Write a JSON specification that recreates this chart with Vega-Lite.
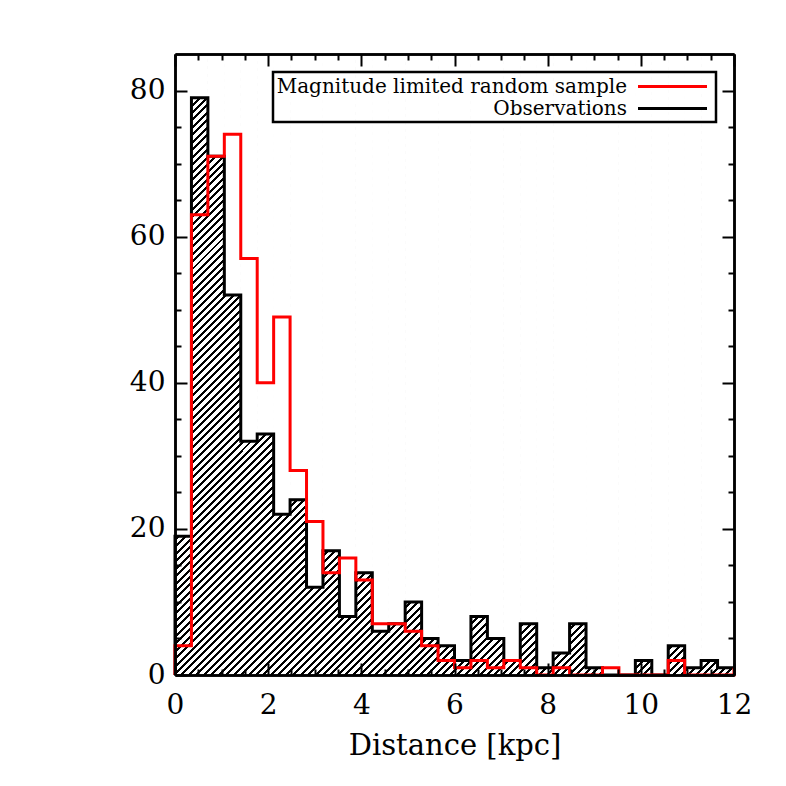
{
"$schema": "https://vega.github.io/schema/vega-lite/v6.json",
"width": 559, "height": 621,
"autosize": {"type": "none"},
"padding": {"left": 175, "top": 54, "right": 52, "bottom": 111},
"background": "white",
"config": {
 "view": {"stroke": null},
 "axis": {"domainColor": "black", "domainWidth": 2.5, "tickColor": "black", "tickWidth": 2, "labelColor": "black", "labelFont": "DejaVu Serif", "labelFontSize": 28, "titleFont": "DejaVu Serif", "titleFontSize": 29, "titleFontWeight": "normal", "titleColor": "black", "grid": false, "zindex": 1, "labelFlush": false, "labelOverlap": false},
 "legend": {"strokeWidth": 2.5}
},
"datasets": {
 "one": [{}],
 "bins": [
  {"x0": 0, "x1": 0.3529, "obs": 19},
  {"x0": 0.3529, "x1": 0.7059, "obs": 79},
  {"x0": 0.7059, "x1": 1.0588, "obs": 71},
  {"x0": 1.0588, "x1": 1.4118, "obs": 52},
  {"x0": 1.4118, "x1": 1.7647, "obs": 32},
  {"x0": 1.7647, "x1": 2.1176, "obs": 33},
  {"x0": 2.1176, "x1": 2.4706, "obs": 22},
  {"x0": 2.4706, "x1": 2.8235, "obs": 24},
  {"x0": 2.8235, "x1": 3.1765, "obs": 12},
  {"x0": 3.1765, "x1": 3.5294, "obs": 17},
  {"x0": 3.5294, "x1": 3.8824, "obs": 8},
  {"x0": 3.8824, "x1": 4.2353, "obs": 14},
  {"x0": 4.2353, "x1": 4.5882, "obs": 6},
  {"x0": 4.5882, "x1": 4.9412, "obs": 7},
  {"x0": 4.9412, "x1": 5.2941, "obs": 10},
  {"x0": 5.2941, "x1": 5.6471, "obs": 5},
  {"x0": 5.6471, "x1": 6.0, "obs": 4},
  {"x0": 6.0, "x1": 6.3529, "obs": 2},
  {"x0": 6.3529, "x1": 6.7059, "obs": 8},
  {"x0": 6.7059, "x1": 7.0588, "obs": 5},
  {"x0": 7.0588, "x1": 7.4118, "obs": 2},
  {"x0": 7.4118, "x1": 7.7647, "obs": 7},
  {"x0": 7.7647, "x1": 8.1176, "obs": 1},
  {"x0": 8.1176, "x1": 8.4706, "obs": 3},
  {"x0": 8.4706, "x1": 8.8235, "obs": 7},
  {"x0": 8.8235, "x1": 9.1765, "obs": 1},
  {"x0": 9.1765, "x1": 9.5294, "obs": 0},
  {"x0": 9.5294, "x1": 9.8824, "obs": 0},
  {"x0": 9.8824, "x1": 10.2353, "obs": 2},
  {"x0": 10.2353, "x1": 10.5882, "obs": 0},
  {"x0": 10.5882, "x1": 10.9412, "obs": 4},
  {"x0": 10.9412, "x1": 11.2941, "obs": 1},
  {"x0": 11.2941, "x1": 11.6471, "obs": 2},
  {"x0": 11.6471, "x1": 12, "obs": 1}
 ],
 "steps": [
  {"i": 0, "x": 0, "obs": 0, "sim": 0},
  {"i": 1, "x": 0, "obs": 19, "sim": 4},
  {"i": 2, "x": 0.3529, "obs": 79, "sim": 63},
  {"i": 3, "x": 0.7059, "obs": 71, "sim": 71},
  {"i": 4, "x": 1.0588, "obs": 52, "sim": 74},
  {"i": 5, "x": 1.4118, "obs": 32, "sim": 57},
  {"i": 6, "x": 1.7647, "obs": 33, "sim": 40},
  {"i": 7, "x": 2.1176, "obs": 22, "sim": 49},
  {"i": 8, "x": 2.4706, "obs": 24, "sim": 28},
  {"i": 9, "x": 2.8235, "obs": 12, "sim": 21},
  {"i": 10, "x": 3.1765, "obs": 17, "sim": 14},
  {"i": 11, "x": 3.5294, "obs": 8, "sim": 16},
  {"i": 12, "x": 3.8824, "obs": 14, "sim": 13},
  {"i": 13, "x": 4.2353, "obs": 6, "sim": 7},
  {"i": 14, "x": 4.5882, "obs": 7, "sim": 7},
  {"i": 15, "x": 4.9412, "obs": 10, "sim": 6},
  {"i": 16, "x": 5.2941, "obs": 5, "sim": 4},
  {"i": 17, "x": 5.6471, "obs": 4, "sim": 2},
  {"i": 18, "x": 6.0, "obs": 2, "sim": 1},
  {"i": 19, "x": 6.3529, "obs": 8, "sim": 2},
  {"i": 20, "x": 6.7059, "obs": 5, "sim": 1},
  {"i": 21, "x": 7.0588, "obs": 2, "sim": 2},
  {"i": 22, "x": 7.4118, "obs": 7, "sim": 1},
  {"i": 23, "x": 7.7647, "obs": 1, "sim": 0},
  {"i": 24, "x": 8.1176, "obs": 3, "sim": 1},
  {"i": 25, "x": 8.4706, "obs": 7, "sim": 0},
  {"i": 26, "x": 8.8235, "obs": 1, "sim": 0},
  {"i": 27, "x": 9.1765, "obs": 0, "sim": 1},
  {"i": 28, "x": 9.5294, "obs": 0, "sim": 0},
  {"i": 29, "x": 9.8824, "obs": 2, "sim": 0},
  {"i": 30, "x": 10.2353, "obs": 0, "sim": 0},
  {"i": 31, "x": 10.5882, "obs": 4, "sim": 2},
  {"i": 32, "x": 10.9412, "obs": 1, "sim": 0},
  {"i": 33, "x": 11.2941, "obs": 2, "sim": 0},
  {"i": 34, "x": 11.6471, "obs": 1, "sim": 0},
  {"i": 35, "x": 12, "obs": 1, "sim": 1}
 ]
},
"resolve": {"scale": {"x": "shared", "y": "shared", "color": "shared"}, "axis": {"x": "independent", "y": "independent"}},
"layer": [
 {
  "data": {"name": "one"},
  "mark": {"type": "rect", "clip": true, "fill": {"gradient": "linear", "x1": 0, "y1": 0, "x2": 1, "y2": 1, "stops": [
{"offset":0,"color":"#000"},{"offset":0.0024,"color":"#000"},{"offset":0.0024,"color":"#fff"},{"offset":0.006,"color":"#fff"},
{"offset":0.006,"color":"#000"},{"offset":0.0084,"color":"#000"},{"offset":0.0084,"color":"#fff"},{"offset":0.012,"color":"#fff"},
{"offset":0.012,"color":"#000"},{"offset":0.0144,"color":"#000"},{"offset":0.0144,"color":"#fff"},{"offset":0.018,"color":"#fff"},
{"offset":0.018,"color":"#000"},{"offset":0.0204,"color":"#000"},{"offset":0.0204,"color":"#fff"},{"offset":0.024,"color":"#fff"},
{"offset":0.024,"color":"#000"},{"offset":0.0264,"color":"#000"},{"offset":0.0264,"color":"#fff"},{"offset":0.03,"color":"#fff"},
{"offset":0.03,"color":"#000"},{"offset":0.0324,"color":"#000"},{"offset":0.0324,"color":"#fff"},{"offset":0.036,"color":"#fff"},
{"offset":0.036,"color":"#000"},{"offset":0.0384,"color":"#000"},{"offset":0.0384,"color":"#fff"},{"offset":0.042,"color":"#fff"},
{"offset":0.042,"color":"#000"},{"offset":0.0444,"color":"#000"},{"offset":0.0444,"color":"#fff"},{"offset":0.048,"color":"#fff"},
{"offset":0.048,"color":"#000"},{"offset":0.0504,"color":"#000"},{"offset":0.0504,"color":"#fff"},{"offset":0.054,"color":"#fff"},
{"offset":0.054,"color":"#000"},{"offset":0.0564,"color":"#000"},{"offset":0.0564,"color":"#fff"},{"offset":0.06,"color":"#fff"},
{"offset":0.06,"color":"#000"},{"offset":0.0624,"color":"#000"},{"offset":0.0624,"color":"#fff"},{"offset":0.066,"color":"#fff"},
{"offset":0.066,"color":"#000"},{"offset":0.0684,"color":"#000"},{"offset":0.0684,"color":"#fff"},{"offset":0.072,"color":"#fff"},
{"offset":0.072,"color":"#000"},{"offset":0.0744,"color":"#000"},{"offset":0.0744,"color":"#fff"},{"offset":0.078,"color":"#fff"},
{"offset":0.078,"color":"#000"},{"offset":0.0804,"color":"#000"},{"offset":0.0804,"color":"#fff"},{"offset":0.084,"color":"#fff"},
{"offset":0.084,"color":"#000"},{"offset":0.0864,"color":"#000"},{"offset":0.0864,"color":"#fff"},{"offset":0.09,"color":"#fff"},
{"offset":0.09,"color":"#000"},{"offset":0.0924,"color":"#000"},{"offset":0.0924,"color":"#fff"},{"offset":0.096,"color":"#fff"},
{"offset":0.096,"color":"#000"},{"offset":0.0984,"color":"#000"},{"offset":0.0984,"color":"#fff"},{"offset":0.102,"color":"#fff"},
{"offset":0.102,"color":"#000"},{"offset":0.1044,"color":"#000"},{"offset":0.1044,"color":"#fff"},{"offset":0.108,"color":"#fff"},
{"offset":0.108,"color":"#000"},{"offset":0.1104,"color":"#000"},{"offset":0.1104,"color":"#fff"},{"offset":0.114,"color":"#fff"},
{"offset":0.114,"color":"#000"},{"offset":0.1164,"color":"#000"},{"offset":0.1164,"color":"#fff"},{"offset":0.12,"color":"#fff"},
{"offset":0.12,"color":"#000"},{"offset":0.1224,"color":"#000"},{"offset":0.1224,"color":"#fff"},{"offset":0.126,"color":"#fff"},
{"offset":0.126,"color":"#000"},{"offset":0.1284,"color":"#000"},{"offset":0.1284,"color":"#fff"},{"offset":0.132,"color":"#fff"},
{"offset":0.132,"color":"#000"},{"offset":0.1344,"color":"#000"},{"offset":0.1344,"color":"#fff"},{"offset":0.138,"color":"#fff"},
{"offset":0.138,"color":"#000"},{"offset":0.1404,"color":"#000"},{"offset":0.1404,"color":"#fff"},{"offset":0.144,"color":"#fff"},
{"offset":0.144,"color":"#000"},{"offset":0.1464,"color":"#000"},{"offset":0.1464,"color":"#fff"},{"offset":0.15,"color":"#fff"},
{"offset":0.15,"color":"#000"},{"offset":0.1524,"color":"#000"},{"offset":0.1524,"color":"#fff"},{"offset":0.156,"color":"#fff"},
{"offset":0.156,"color":"#000"},{"offset":0.1584,"color":"#000"},{"offset":0.1584,"color":"#fff"},{"offset":0.162,"color":"#fff"},
{"offset":0.162,"color":"#000"},{"offset":0.1644,"color":"#000"},{"offset":0.1644,"color":"#fff"},{"offset":0.168,"color":"#fff"},
{"offset":0.168,"color":"#000"},{"offset":0.1704,"color":"#000"},{"offset":0.1704,"color":"#fff"},{"offset":0.174,"color":"#fff"},
{"offset":0.174,"color":"#000"},{"offset":0.1764,"color":"#000"},{"offset":0.1764,"color":"#fff"},{"offset":0.18,"color":"#fff"},
{"offset":0.18,"color":"#000"},{"offset":0.1824,"color":"#000"},{"offset":0.1824,"color":"#fff"},{"offset":0.186,"color":"#fff"},
{"offset":0.186,"color":"#000"},{"offset":0.1884,"color":"#000"},{"offset":0.1884,"color":"#fff"},{"offset":0.192,"color":"#fff"},
{"offset":0.192,"color":"#000"},{"offset":0.1944,"color":"#000"},{"offset":0.1944,"color":"#fff"},{"offset":0.198,"color":"#fff"},
{"offset":0.198,"color":"#000"},{"offset":0.2004,"color":"#000"},{"offset":0.2004,"color":"#fff"},{"offset":0.204,"color":"#fff"},
{"offset":0.204,"color":"#000"},{"offset":0.2064,"color":"#000"},{"offset":0.2064,"color":"#fff"},{"offset":0.21,"color":"#fff"},
{"offset":0.21,"color":"#000"},{"offset":0.2124,"color":"#000"},{"offset":0.2124,"color":"#fff"},{"offset":0.216,"color":"#fff"},
{"offset":0.216,"color":"#000"},{"offset":0.2184,"color":"#000"},{"offset":0.2184,"color":"#fff"},{"offset":0.222,"color":"#fff"},
{"offset":0.222,"color":"#000"},{"offset":0.2244,"color":"#000"},{"offset":0.2244,"color":"#fff"},{"offset":0.228,"color":"#fff"},
{"offset":0.228,"color":"#000"},{"offset":0.2304,"color":"#000"},{"offset":0.2304,"color":"#fff"},{"offset":0.234,"color":"#fff"},
{"offset":0.234,"color":"#000"},{"offset":0.2364,"color":"#000"},{"offset":0.2364,"color":"#fff"},{"offset":0.24,"color":"#fff"},
{"offset":0.24,"color":"#000"},{"offset":0.2424,"color":"#000"},{"offset":0.2424,"color":"#fff"},{"offset":0.246,"color":"#fff"},
{"offset":0.246,"color":"#000"},{"offset":0.2484,"color":"#000"},{"offset":0.2484,"color":"#fff"},{"offset":0.252,"color":"#fff"},
{"offset":0.252,"color":"#000"},{"offset":0.2544,"color":"#000"},{"offset":0.2544,"color":"#fff"},{"offset":0.258,"color":"#fff"},
{"offset":0.258,"color":"#000"},{"offset":0.2604,"color":"#000"},{"offset":0.2604,"color":"#fff"},{"offset":0.264,"color":"#fff"},
{"offset":0.264,"color":"#000"},{"offset":0.2664,"color":"#000"},{"offset":0.2664,"color":"#fff"},{"offset":0.27,"color":"#fff"},
{"offset":0.27,"color":"#000"},{"offset":0.2724,"color":"#000"},{"offset":0.2724,"color":"#fff"},{"offset":0.276,"color":"#fff"},
{"offset":0.276,"color":"#000"},{"offset":0.2784,"color":"#000"},{"offset":0.2784,"color":"#fff"},{"offset":0.282,"color":"#fff"},
{"offset":0.282,"color":"#000"},{"offset":0.2844,"color":"#000"},{"offset":0.2844,"color":"#fff"},{"offset":0.288,"color":"#fff"},
{"offset":0.288,"color":"#000"},{"offset":0.2904,"color":"#000"},{"offset":0.2904,"color":"#fff"},{"offset":0.294,"color":"#fff"},
{"offset":0.294,"color":"#000"},{"offset":0.2964,"color":"#000"},{"offset":0.2964,"color":"#fff"},{"offset":0.3,"color":"#fff"},
{"offset":0.3,"color":"#000"},{"offset":0.3024,"color":"#000"},{"offset":0.3024,"color":"#fff"},{"offset":0.306,"color":"#fff"},
{"offset":0.306,"color":"#000"},{"offset":0.3084,"color":"#000"},{"offset":0.3084,"color":"#fff"},{"offset":0.312,"color":"#fff"},
{"offset":0.312,"color":"#000"},{"offset":0.3144,"color":"#000"},{"offset":0.3144,"color":"#fff"},{"offset":0.318,"color":"#fff"},
{"offset":0.318,"color":"#000"},{"offset":0.3204,"color":"#000"},{"offset":0.3204,"color":"#fff"},{"offset":0.324,"color":"#fff"},
{"offset":0.324,"color":"#000"},{"offset":0.3264,"color":"#000"},{"offset":0.3264,"color":"#fff"},{"offset":0.33,"color":"#fff"},
{"offset":0.33,"color":"#000"},{"offset":0.3324,"color":"#000"},{"offset":0.3324,"color":"#fff"},{"offset":0.336,"color":"#fff"},
{"offset":0.336,"color":"#000"},{"offset":0.3384,"color":"#000"},{"offset":0.3384,"color":"#fff"},{"offset":0.342,"color":"#fff"},
{"offset":0.342,"color":"#000"},{"offset":0.3444,"color":"#000"},{"offset":0.3444,"color":"#fff"},{"offset":0.348,"color":"#fff"},
{"offset":0.348,"color":"#000"},{"offset":0.3504,"color":"#000"},{"offset":0.3504,"color":"#fff"},{"offset":0.354,"color":"#fff"},
{"offset":0.354,"color":"#000"},{"offset":0.3564,"color":"#000"},{"offset":0.3564,"color":"#fff"},{"offset":0.36,"color":"#fff"},
{"offset":0.36,"color":"#000"},{"offset":0.3624,"color":"#000"},{"offset":0.3624,"color":"#fff"},{"offset":0.366,"color":"#fff"},
{"offset":0.366,"color":"#000"},{"offset":0.3684,"color":"#000"},{"offset":0.3684,"color":"#fff"},{"offset":0.372,"color":"#fff"},
{"offset":0.372,"color":"#000"},{"offset":0.3744,"color":"#000"},{"offset":0.3744,"color":"#fff"},{"offset":0.378,"color":"#fff"},
{"offset":0.378,"color":"#000"},{"offset":0.3804,"color":"#000"},{"offset":0.3804,"color":"#fff"},{"offset":0.384,"color":"#fff"},
{"offset":0.384,"color":"#000"},{"offset":0.3864,"color":"#000"},{"offset":0.3864,"color":"#fff"},{"offset":0.39,"color":"#fff"},
{"offset":0.39,"color":"#000"},{"offset":0.3924,"color":"#000"},{"offset":0.3924,"color":"#fff"},{"offset":0.396,"color":"#fff"},
{"offset":0.396,"color":"#000"},{"offset":0.3984,"color":"#000"},{"offset":0.3984,"color":"#fff"},{"offset":0.402,"color":"#fff"},
{"offset":0.402,"color":"#000"},{"offset":0.4044,"color":"#000"},{"offset":0.4044,"color":"#fff"},{"offset":0.408,"color":"#fff"},
{"offset":0.408,"color":"#000"},{"offset":0.4104,"color":"#000"},{"offset":0.4104,"color":"#fff"},{"offset":0.414,"color":"#fff"},
{"offset":0.414,"color":"#000"},{"offset":0.4164,"color":"#000"},{"offset":0.4164,"color":"#fff"},{"offset":0.42,"color":"#fff"},
{"offset":0.42,"color":"#000"},{"offset":0.4224,"color":"#000"},{"offset":0.4224,"color":"#fff"},{"offset":0.426,"color":"#fff"},
{"offset":0.426,"color":"#000"},{"offset":0.4284,"color":"#000"},{"offset":0.4284,"color":"#fff"},{"offset":0.432,"color":"#fff"},
{"offset":0.432,"color":"#000"},{"offset":0.4344,"color":"#000"},{"offset":0.4344,"color":"#fff"},{"offset":0.438,"color":"#fff"},
{"offset":0.438,"color":"#000"},{"offset":0.4404,"color":"#000"},{"offset":0.4404,"color":"#fff"},{"offset":0.444,"color":"#fff"},
{"offset":0.444,"color":"#000"},{"offset":0.4464,"color":"#000"},{"offset":0.4464,"color":"#fff"},{"offset":0.45,"color":"#fff"},
{"offset":0.45,"color":"#000"},{"offset":0.4524,"color":"#000"},{"offset":0.4524,"color":"#fff"},{"offset":0.456,"color":"#fff"},
{"offset":0.456,"color":"#000"},{"offset":0.4584,"color":"#000"},{"offset":0.4584,"color":"#fff"},{"offset":0.462,"color":"#fff"},
{"offset":0.462,"color":"#000"},{"offset":0.4644,"color":"#000"},{"offset":0.4644,"color":"#fff"},{"offset":0.468,"color":"#fff"},
{"offset":0.468,"color":"#000"},{"offset":0.4704,"color":"#000"},{"offset":0.4704,"color":"#fff"},{"offset":0.474,"color":"#fff"},
{"offset":0.474,"color":"#000"},{"offset":0.4764,"color":"#000"},{"offset":0.4764,"color":"#fff"},{"offset":0.48,"color":"#fff"},
{"offset":0.48,"color":"#000"},{"offset":0.4824,"color":"#000"},{"offset":0.4824,"color":"#fff"},{"offset":0.486,"color":"#fff"},
{"offset":0.486,"color":"#000"},{"offset":0.4884,"color":"#000"},{"offset":0.4884,"color":"#fff"},{"offset":0.492,"color":"#fff"},
{"offset":0.492,"color":"#000"},{"offset":0.4944,"color":"#000"},{"offset":0.4944,"color":"#fff"},{"offset":0.498,"color":"#fff"},
{"offset":0.498,"color":"#000"},{"offset":0.5004,"color":"#000"},{"offset":0.5004,"color":"#fff"},{"offset":0.504,"color":"#fff"},
{"offset":0.504,"color":"#000"},{"offset":0.5064,"color":"#000"},{"offset":0.5064,"color":"#fff"},{"offset":0.51,"color":"#fff"},
{"offset":0.51,"color":"#000"},{"offset":0.5124,"color":"#000"},{"offset":0.5124,"color":"#fff"},{"offset":0.516,"color":"#fff"},
{"offset":0.516,"color":"#000"},{"offset":0.5184,"color":"#000"},{"offset":0.5184,"color":"#fff"},{"offset":0.522,"color":"#fff"},
{"offset":0.522,"color":"#000"},{"offset":0.5244,"color":"#000"},{"offset":0.5244,"color":"#fff"},{"offset":0.528,"color":"#fff"},
{"offset":0.528,"color":"#000"},{"offset":0.5304,"color":"#000"},{"offset":0.5304,"color":"#fff"},{"offset":0.534,"color":"#fff"},
{"offset":0.534,"color":"#000"},{"offset":0.5364,"color":"#000"},{"offset":0.5364,"color":"#fff"},{"offset":0.54,"color":"#fff"},
{"offset":0.54,"color":"#000"},{"offset":0.5424,"color":"#000"},{"offset":0.5424,"color":"#fff"},{"offset":0.546,"color":"#fff"},
{"offset":0.546,"color":"#000"},{"offset":0.5484,"color":"#000"},{"offset":0.5484,"color":"#fff"},{"offset":0.552,"color":"#fff"},
{"offset":0.552,"color":"#000"},{"offset":0.5544,"color":"#000"},{"offset":0.5544,"color":"#fff"},{"offset":0.558,"color":"#fff"},
{"offset":0.558,"color":"#000"},{"offset":0.5604,"color":"#000"},{"offset":0.5604,"color":"#fff"},{"offset":0.564,"color":"#fff"},
{"offset":0.564,"color":"#000"},{"offset":0.5664,"color":"#000"},{"offset":0.5664,"color":"#fff"},{"offset":0.57,"color":"#fff"},
{"offset":0.57,"color":"#000"},{"offset":0.5724,"color":"#000"},{"offset":0.5724,"color":"#fff"},{"offset":0.576,"color":"#fff"},
{"offset":0.576,"color":"#000"},{"offset":0.5784,"color":"#000"},{"offset":0.5784,"color":"#fff"},{"offset":0.582,"color":"#fff"},
{"offset":0.582,"color":"#000"},{"offset":0.5844,"color":"#000"},{"offset":0.5844,"color":"#fff"},{"offset":0.588,"color":"#fff"},
{"offset":0.588,"color":"#000"},{"offset":0.5904,"color":"#000"},{"offset":0.5904,"color":"#fff"},{"offset":0.594,"color":"#fff"},
{"offset":0.594,"color":"#000"},{"offset":0.5964,"color":"#000"},{"offset":0.5964,"color":"#fff"},{"offset":0.6,"color":"#fff"},
{"offset":0.6,"color":"#000"},{"offset":0.6024,"color":"#000"},{"offset":0.6024,"color":"#fff"},{"offset":0.606,"color":"#fff"},
{"offset":0.606,"color":"#000"},{"offset":0.6084,"color":"#000"},{"offset":0.6084,"color":"#fff"},{"offset":0.612,"color":"#fff"},
{"offset":0.612,"color":"#000"},{"offset":0.6144,"color":"#000"},{"offset":0.6144,"color":"#fff"},{"offset":0.618,"color":"#fff"},
{"offset":0.618,"color":"#000"},{"offset":0.6204,"color":"#000"},{"offset":0.6204,"color":"#fff"},{"offset":0.624,"color":"#fff"},
{"offset":0.624,"color":"#000"},{"offset":0.6264,"color":"#000"},{"offset":0.6264,"color":"#fff"},{"offset":0.63,"color":"#fff"},
{"offset":0.63,"color":"#000"},{"offset":0.6324,"color":"#000"},{"offset":0.6324,"color":"#fff"},{"offset":0.636,"color":"#fff"},
{"offset":0.636,"color":"#000"},{"offset":0.6384,"color":"#000"},{"offset":0.6384,"color":"#fff"},{"offset":0.642,"color":"#fff"},
{"offset":0.642,"color":"#000"},{"offset":0.6444,"color":"#000"},{"offset":0.6444,"color":"#fff"},{"offset":0.648,"color":"#fff"},
{"offset":0.648,"color":"#000"},{"offset":0.6504,"color":"#000"},{"offset":0.6504,"color":"#fff"},{"offset":0.654,"color":"#fff"},
{"offset":0.654,"color":"#000"},{"offset":0.6564,"color":"#000"},{"offset":0.6564,"color":"#fff"},{"offset":0.66,"color":"#fff"},
{"offset":0.66,"color":"#000"},{"offset":0.6624,"color":"#000"},{"offset":0.6624,"color":"#fff"},{"offset":0.666,"color":"#fff"},
{"offset":0.666,"color":"#000"},{"offset":0.6684,"color":"#000"},{"offset":0.6684,"color":"#fff"},{"offset":0.672,"color":"#fff"},
{"offset":0.672,"color":"#000"},{"offset":0.6744,"color":"#000"},{"offset":0.6744,"color":"#fff"},{"offset":0.678,"color":"#fff"},
{"offset":0.678,"color":"#000"},{"offset":0.6804,"color":"#000"},{"offset":0.6804,"color":"#fff"},{"offset":0.684,"color":"#fff"},
{"offset":0.684,"color":"#000"},{"offset":0.6864,"color":"#000"},{"offset":0.6864,"color":"#fff"},{"offset":0.69,"color":"#fff"},
{"offset":0.69,"color":"#000"},{"offset":0.6924,"color":"#000"},{"offset":0.6924,"color":"#fff"},{"offset":0.696,"color":"#fff"},
{"offset":0.696,"color":"#000"},{"offset":0.6984,"color":"#000"},{"offset":0.6984,"color":"#fff"},{"offset":0.702,"color":"#fff"},
{"offset":0.702,"color":"#000"},{"offset":0.7044,"color":"#000"},{"offset":0.7044,"color":"#fff"},{"offset":0.708,"color":"#fff"},
{"offset":0.708,"color":"#000"},{"offset":0.7104,"color":"#000"},{"offset":0.7104,"color":"#fff"},{"offset":0.714,"color":"#fff"},
{"offset":0.714,"color":"#000"},{"offset":0.7164,"color":"#000"},{"offset":0.7164,"color":"#fff"},{"offset":0.72,"color":"#fff"},
{"offset":0.72,"color":"#000"},{"offset":0.7224,"color":"#000"},{"offset":0.7224,"color":"#fff"},{"offset":0.726,"color":"#fff"},
{"offset":0.726,"color":"#000"},{"offset":0.7284,"color":"#000"},{"offset":0.7284,"color":"#fff"},{"offset":0.732,"color":"#fff"},
{"offset":0.732,"color":"#000"},{"offset":0.7344,"color":"#000"},{"offset":0.7344,"color":"#fff"},{"offset":0.738,"color":"#fff"},
{"offset":0.738,"color":"#000"},{"offset":0.7404,"color":"#000"},{"offset":0.7404,"color":"#fff"},{"offset":0.744,"color":"#fff"},
{"offset":0.744,"color":"#000"},{"offset":0.7464,"color":"#000"},{"offset":0.7464,"color":"#fff"},{"offset":0.75,"color":"#fff"},
{"offset":0.75,"color":"#000"},{"offset":0.7524,"color":"#000"},{"offset":0.7524,"color":"#fff"},{"offset":0.756,"color":"#fff"},
{"offset":0.756,"color":"#000"},{"offset":0.7584,"color":"#000"},{"offset":0.7584,"color":"#fff"},{"offset":0.762,"color":"#fff"},
{"offset":0.762,"color":"#000"},{"offset":0.7644,"color":"#000"},{"offset":0.7644,"color":"#fff"},{"offset":0.768,"color":"#fff"},
{"offset":0.768,"color":"#000"},{"offset":0.7704,"color":"#000"},{"offset":0.7704,"color":"#fff"},{"offset":0.774,"color":"#fff"},
{"offset":0.774,"color":"#000"},{"offset":0.7764,"color":"#000"},{"offset":0.7764,"color":"#fff"},{"offset":0.78,"color":"#fff"},
{"offset":0.78,"color":"#000"},{"offset":0.7824,"color":"#000"},{"offset":0.7824,"color":"#fff"},{"offset":0.786,"color":"#fff"},
{"offset":0.786,"color":"#000"},{"offset":0.7884,"color":"#000"},{"offset":0.7884,"color":"#fff"},{"offset":0.792,"color":"#fff"},
{"offset":0.792,"color":"#000"},{"offset":0.7944,"color":"#000"},{"offset":0.7944,"color":"#fff"},{"offset":0.798,"color":"#fff"},
{"offset":0.798,"color":"#000"},{"offset":0.8004,"color":"#000"},{"offset":0.8004,"color":"#fff"},{"offset":0.804,"color":"#fff"},
{"offset":0.804,"color":"#000"},{"offset":0.8064,"color":"#000"},{"offset":0.8064,"color":"#fff"},{"offset":0.81,"color":"#fff"},
{"offset":0.81,"color":"#000"},{"offset":0.8124,"color":"#000"},{"offset":0.8124,"color":"#fff"},{"offset":0.816,"color":"#fff"},
{"offset":0.816,"color":"#000"},{"offset":0.8184,"color":"#000"},{"offset":0.8184,"color":"#fff"},{"offset":0.822,"color":"#fff"},
{"offset":0.822,"color":"#000"},{"offset":0.8244,"color":"#000"},{"offset":0.8244,"color":"#fff"},{"offset":0.828,"color":"#fff"},
{"offset":0.828,"color":"#000"},{"offset":0.8304,"color":"#000"},{"offset":0.8304,"color":"#fff"},{"offset":0.834,"color":"#fff"},
{"offset":0.834,"color":"#000"},{"offset":0.8364,"color":"#000"},{"offset":0.8364,"color":"#fff"},{"offset":0.84,"color":"#fff"},
{"offset":0.84,"color":"#000"},{"offset":0.8424,"color":"#000"},{"offset":0.8424,"color":"#fff"},{"offset":0.846,"color":"#fff"},
{"offset":0.846,"color":"#000"},{"offset":0.8484,"color":"#000"},{"offset":0.8484,"color":"#fff"},{"offset":0.852,"color":"#fff"},
{"offset":0.852,"color":"#000"},{"offset":0.8544,"color":"#000"},{"offset":0.8544,"color":"#fff"},{"offset":0.858,"color":"#fff"},
{"offset":0.858,"color":"#000"},{"offset":0.8604,"color":"#000"},{"offset":0.8604,"color":"#fff"},{"offset":0.864,"color":"#fff"},
{"offset":0.864,"color":"#000"},{"offset":0.8664,"color":"#000"},{"offset":0.8664,"color":"#fff"},{"offset":0.87,"color":"#fff"},
{"offset":0.87,"color":"#000"},{"offset":0.8724,"color":"#000"},{"offset":0.8724,"color":"#fff"},{"offset":0.876,"color":"#fff"},
{"offset":0.876,"color":"#000"},{"offset":0.8784,"color":"#000"},{"offset":0.8784,"color":"#fff"},{"offset":0.882,"color":"#fff"},
{"offset":0.882,"color":"#000"},{"offset":0.8844,"color":"#000"},{"offset":0.8844,"color":"#fff"},{"offset":0.888,"color":"#fff"},
{"offset":0.888,"color":"#000"},{"offset":0.8904,"color":"#000"},{"offset":0.8904,"color":"#fff"},{"offset":0.894,"color":"#fff"},
{"offset":0.894,"color":"#000"},{"offset":0.8964,"color":"#000"},{"offset":0.8964,"color":"#fff"},{"offset":0.9,"color":"#fff"},
{"offset":0.9,"color":"#000"},{"offset":0.9024,"color":"#000"},{"offset":0.9024,"color":"#fff"},{"offset":0.906,"color":"#fff"},
{"offset":0.906,"color":"#000"},{"offset":0.9084,"color":"#000"},{"offset":0.9084,"color":"#fff"},{"offset":0.912,"color":"#fff"},
{"offset":0.912,"color":"#000"},{"offset":0.9144,"color":"#000"},{"offset":0.9144,"color":"#fff"},{"offset":0.918,"color":"#fff"},
{"offset":0.918,"color":"#000"},{"offset":0.9204,"color":"#000"},{"offset":0.9204,"color":"#fff"},{"offset":0.924,"color":"#fff"},
{"offset":0.924,"color":"#000"},{"offset":0.9264,"color":"#000"},{"offset":0.9264,"color":"#fff"},{"offset":0.93,"color":"#fff"},
{"offset":0.93,"color":"#000"},{"offset":0.9324,"color":"#000"},{"offset":0.9324,"color":"#fff"},{"offset":0.936,"color":"#fff"},
{"offset":0.936,"color":"#000"},{"offset":0.9384,"color":"#000"},{"offset":0.9384,"color":"#fff"},{"offset":0.942,"color":"#fff"},
{"offset":0.942,"color":"#000"},{"offset":0.9444,"color":"#000"},{"offset":0.9444,"color":"#fff"},{"offset":0.948,"color":"#fff"},
{"offset":0.948,"color":"#000"},{"offset":0.9504,"color":"#000"},{"offset":0.9504,"color":"#fff"},{"offset":0.954,"color":"#fff"},
{"offset":0.954,"color":"#000"},{"offset":0.9564,"color":"#000"},{"offset":0.9564,"color":"#fff"},{"offset":0.96,"color":"#fff"},
{"offset":0.96,"color":"#000"},{"offset":0.9624,"color":"#000"},{"offset":0.9624,"color":"#fff"},{"offset":1,"color":"#fff"}
  ]}},
  "encoding": {
   "x": {"datum": 0, "type": "quantitative", "scale": {"domain": [0, 12], "nice": false, "zero": false},
     "axis": {"orient": "bottom", "zindex": 2, "values": [0, 2, 4, 6, 8, 10, 12], "tickSize": -12, "labelPadding": 28, "title": "Distance [kpc]", "titlePadding": 12}},
   "x2": {"datum": 13.33},
   "y": {"datum": 0, "type": "quantitative", "scale": {"domain": [0, 85], "nice": false, "zero": false},
     "axis": {"orient": "left", "zindex": 2, "values": [0, 20, 40, 60, 80], "tickSize": -12, "labelPadding": 22, "title": null}},
   "y2": {"datum": 85}
  }
 },
 {
  "data": {"name": "bins"},
  "mark": {"type": "rect", "fill": "white", "stroke": "white", "strokeWidth": 1, "clip": true},
  "encoding": {
   "x": {"field": "x0", "type": "quantitative", "scale": {"domain": [0, 12], "nice": false, "zero": false},
     "axis": {"orient": "top", "zindex": 2, "values": [0, 2, 4, 6, 8, 10, 12], "tickSize": -12, "labels": false, "title": null}},
   "x2": {"field": "x1"},
   "y": {"field": "obs", "type": "quantitative", "scale": {"domain": [0, 85], "nice": false, "zero": false},
     "axis": {"orient": "right", "zindex": 2, "values": [0, 20, 40, 60, 80], "tickSize": -12, "labels": false, "title": null}},
   "y2": {"datum": 85}
  }
 },
 {
  "data": {"name": "steps"},
  "transform": [{"fold": ["sim", "obs"], "as": ["series", "count"]}, {"filter": "datum.series === 'obs'"}],
  "mark": {"type": "line", "interpolate": "step-after", "strokeWidth": 3},
  "encoding": {
   "x": {"field": "x", "type": "quantitative", "scale": {"domain": [0, 12], "nice": false, "zero": false},
     "axis": {"orient": "bottom", "zindex": 2, "values": [0.5, 1, 1.5, 2.5, 3, 3.5, 4.5, 5, 5.5, 6.5, 7, 7.5, 8.5, 9, 9.5, 10.5, 11, 11.5], "tickSize": -6, "labels": false, "title": null}},
   "y": {"field": "count", "type": "quantitative", "scale": {"domain": [0, 85], "nice": false, "zero": false},
     "axis": {"orient": "left", "zindex": 2, "values": [5, 10, 15, 25, 30, 35, 45, 50, 55, 65, 70, 75], "tickSize": -6, "labels": false, "title": null}},
   "order": {"field": "i", "type": "quantitative"},
   "color": {"field": "series", "type": "nominal", "scale": {"domain": ["sim", "obs"], "range": ["#ff0000", "#000000"]},
     "legend": {"title": null, "orient": "none", "legendX": 98, "legendY": 18, "labelAlign": "right", "labelOffset": -57, "symbolOffset": 385, "symbolType": "M-3.45,0H3.45", "symbolSize": 400, "symbolStrokeWidth": 3, "strokeColor": "black", "padding": 3, "labelFont": "DejaVu Serif", "labelFontSize": 20, "labelColor": "black", "rowPadding": -5, "labelLimit": 600, "labelExpr": "datum.value === 'sim' ? 'Magnitude limited random sample' : 'Observations'"}}
  }
 },
 {
  "data": {"name": "steps"},
  "transform": [{"fold": ["sim", "obs"], "as": ["series", "count"]}, {"filter": "datum.series === 'sim'"}],
  "mark": {"type": "line", "interpolate": "step-after", "strokeWidth": 3},
  "encoding": {
   "x": {"field": "x", "type": "quantitative", "scale": {"domain": [0, 12], "nice": false, "zero": false},
     "axis": {"orient": "top", "zindex": 2, "values": [0.5, 1, 1.5, 2.5, 3, 3.5, 4.5, 5, 5.5, 6.5, 7, 7.5, 8.5, 9, 9.5, 10.5, 11, 11.5], "tickSize": -6, "labels": false, "title": null}},
   "y": {"field": "count", "type": "quantitative", "scale": {"domain": [0, 85], "nice": false, "zero": false},
     "axis": {"orient": "right", "zindex": 2, "values": [5, 10, 15, 25, 30, 35, 45, 50, 55, 65, 70, 75], "tickSize": -6, "labels": false, "title": null}},
   "order": {"field": "i", "type": "quantitative"},
   "color": {"field": "series", "type": "nominal", "scale": {"domain": ["sim", "obs"], "range": ["#ff0000", "#000000"]},
     "legend": {"title": null, "orient": "none", "legendX": 98, "legendY": 18, "labelAlign": "right", "labelOffset": -57, "symbolOffset": 385, "symbolType": "M-3.45,0H3.45", "symbolSize": 400, "symbolStrokeWidth": 3, "strokeColor": "black", "padding": 3, "labelFont": "DejaVu Serif", "labelFontSize": 20, "labelColor": "black", "rowPadding": -5, "labelLimit": 600, "labelExpr": "datum.value === 'sim' ? 'Magnitude limited random sample' : 'Observations'"}}
  }
 }
]
}
